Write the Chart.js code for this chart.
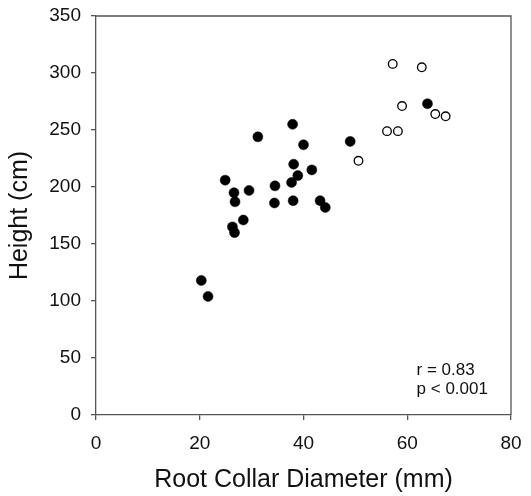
<!DOCTYPE html>
<html>
<head>
<meta charset="utf-8">
<script src="https://cdn.jsdelivr.net/npm/chart.js@4/dist/chart.umd.min.js"></script>
<style>
  html, body { margin: 0; padding: 0; background: #fff; }
  #wrap { width: 531px; height: 496px; }
</style>
</head>
<body>
<div id="wrap"><canvas id="scatter"></canvas></div>
<script>
// filled circles
const filledDiameter = [37.9, 31.2, 40.0, 49.0, 38.1, 41.6, 38.9, 37.7, 24.9, 26.6, 29.5, 34.5, 26.8, 34.4, 38.0, 43.2, 44.2, 28.4, 26.3, 26.7, 20.3, 21.6, 63.9];
const filledHeight   = [255, 244, 237, 240, 220, 215, 210, 204, 206, 195, 197, 201, 187, 186, 188, 188, 182, 171, 165, 160, 118, 104, 273];
// open circles
const openDiameter = [50.6, 57.2, 62.8, 59.0, 65.4, 67.4, 56.1, 58.2];
const openHeight   = [223, 308, 305, 271, 264, 262, 249, 249];

const xTicks = [0, 20, 40, 60, 80];
const yTicks = [0, 50, 100, 150, 200, 250, 300, 350];
const statsText = ['r = 0.83', 'p < 0.001'];

const FONT = 'Liberation Sans, Arial, sans-serif';
const AXIS = '#555';

function toPoints(xs, ys) {
    return xs.map((x, i) => ({ x: x, y: ys[i] }));
}

// box around plot + stats text
const extras = {
    id: 'extras',
    afterDraw(chart) {
        const { ctx, chartArea, scales } = chart;
        ctx.save();
        ctx.strokeStyle = AXIS;
        ctx.lineWidth = 1.3;
        ctx.beginPath();
        ctx.moveTo(chartArea.left, chartArea.top);
        ctx.lineTo(chartArea.right, chartArea.top);
        ctx.lineTo(chartArea.right, chartArea.bottom);
        ctx.stroke();
        ctx.fillStyle = '#111';
        ctx.font = '17px ' + FONT;
        ctx.textAlign = 'left';
        ctx.textBaseline = 'middle';
        const x = scales.x.getPixelForValue(61.8);
        ctx.fillText(statsText[0], x, scales.y.getPixelForValue(39.5));
        ctx.fillText(statsText[1], x, scales.y.getPixelForValue(22.5));
        ctx.restore();
    }
};

new Chart(document.getElementById('scatter'), {
    type: 'scatter',
    data: {
        datasets: [{
            data: toPoints(filledDiameter, filledHeight),
            pointRadius: 5,
            pointBackgroundColor: '#000',
            pointBorderColor: '#000',
            pointBorderWidth: 0.5
        }, {
            data: toPoints(openDiameter, openHeight),
            pointRadius: 4.3,
            pointBackgroundColor: '#fff',
            pointBorderColor: '#000',
            pointBorderWidth: 1.3
        }]
    },
    options: {
        responsive: true,
        maintainAspectRatio: false,
        animation: false,
        events: [],
        layout: { padding: { top: 16, right: 20, left: 0, bottom: 0 } },
        plugins: { legend: { display: false }, tooltip: { enabled: false } },
        scales: {
            x: {
                type: 'linear',
                min: 0, max: 80,
                afterBuildTicks: axis => { axis.ticks = xTicks.map(v => ({ value: v })); },
                afterFit: axis => { axis.height = 81; axis.paddingLeft = 0; axis.paddingRight = 0; },
                grid: { drawOnChartArea: false, drawTicks: true, tickLength: 5, color: AXIS, lineWidth: 1.3 },
                border: { color: AXIS, width: 1.3 },
                ticks: { color: '#111', font: { family: FONT, size: 19 }, padding: 12, maxRotation: 0 },
                title: { display: true, text: 'Root Collar Diameter (mm)', color: '#111', font: { family: FONT, size: 25 }, padding: { top: 4, bottom: 1 } }
            },
            y: {
                type: 'linear',
                min: 0, max: 350,
                afterBuildTicks: axis => { axis.ticks = yTicks.map(v => ({ value: v })); },
                afterFit: axis => { axis.width = 96; axis.paddingTop = 0; axis.paddingBottom = 0; },
                grid: { drawOnChartArea: false, drawTicks: true, tickLength: 5, color: AXIS, lineWidth: 1.3 },
                border: { color: AXIS, width: 1.3 },
                ticks: { color: '#111', font: { family: FONT, size: 19 }, padding: 10 },
                title: { display: true, text: 'Height (cm)', color: '#111', font: { family: FONT, size: 25 }, padding: { top: 5, bottom: 0 } }
            }
        }
    },
    plugins: [extras]
});
</script>
</body>
</html>
